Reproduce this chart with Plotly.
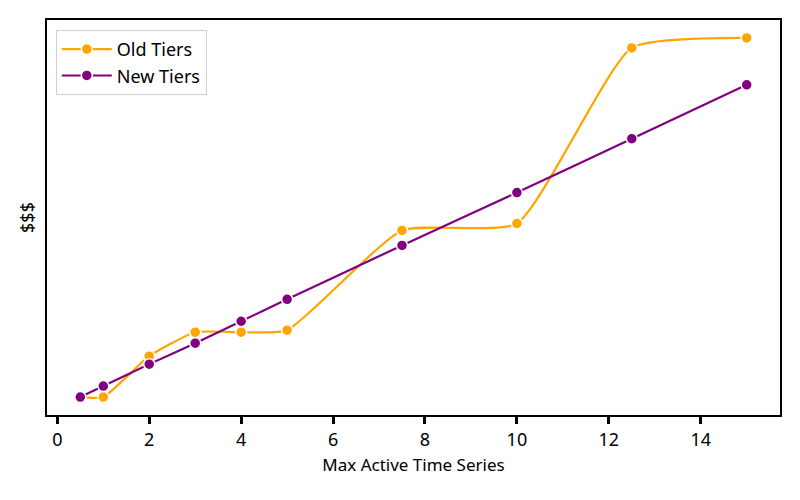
import plotly.graph_objects as go

x_vals = [0.5, 1, 2, 3, 4, 5, 7.5, 10, 12.5, 15]
old_tiers = [2, 2, 43, 67, 67, 69, 169, 176, 352, 362]
new_tiers = [2, 13, 35, 56, 78, 100, 154, 207, 261, 315]
x_ticks = [0, 2, 4, 6, 8, 10, 12, 14]

FONT = "Noto Sans"

fig = go.Figure()
for name, vals, color in [("Old Tiers", old_tiers, "#FFA500"), ("New Tiers", new_tiers, "#800080")]:
    fig.add_trace(go.Scatter(
        x=x_vals, y=vals, name=name, mode="lines+markers",
        line=dict(color=color, width=2.2, shape="spline", smoothing=0.5),
        marker=dict(size=11, color=color, line=dict(color="white", width=1.5)),
    ))

allv = old_tiers + new_tiers
ymin, ymax = min(allv), max(allv)
span = ymax - ymin
xspan = max(x_vals) - min(x_vals)

fig.update_layout(
    width=784, height=484,
    margin=dict(l=39, r=12, t=12, b=77),
    paper_bgcolor="white", plot_bgcolor="white",
    font=dict(family=FONT, size=17, color="black"),
    showlegend=True,
    legend=dict(x=0.012, y=0.975, xanchor="left", yanchor="top",
                bordercolor="#d0d0d0", borderwidth=1, bgcolor="rgba(255,255,255,0.8)",
                font=dict(size=18), itemwidth=50, tracegroupgap=6),
    xaxis=dict(range=[min(x_vals) - 0.05 * xspan, max(x_vals) + 0.05 * xspan],
               tickmode="array", tickvals=x_ticks,
               ticks="outside", ticklen=7, tickwidth=2.5, tickcolor="black",
               tickfont=dict(size=18),
               showline=True, linecolor="black", linewidth=2, mirror=True,
               showgrid=False, zeroline=False, automargin=False,
               title=dict(text="Max Active Time Series", font=dict(size=17), standoff=10)),
    yaxis=dict(range=[ymin - 0.05 * span, ymax + 0.05 * span],
               showticklabels=False, ticks="",
               showline=True, linecolor="black", linewidth=2, mirror=True,
               showgrid=False, zeroline=False, automargin=False,
               title=dict(text="$$$", font=dict(size=18), standoff=6)),
)

fig.write_html("out.html")
